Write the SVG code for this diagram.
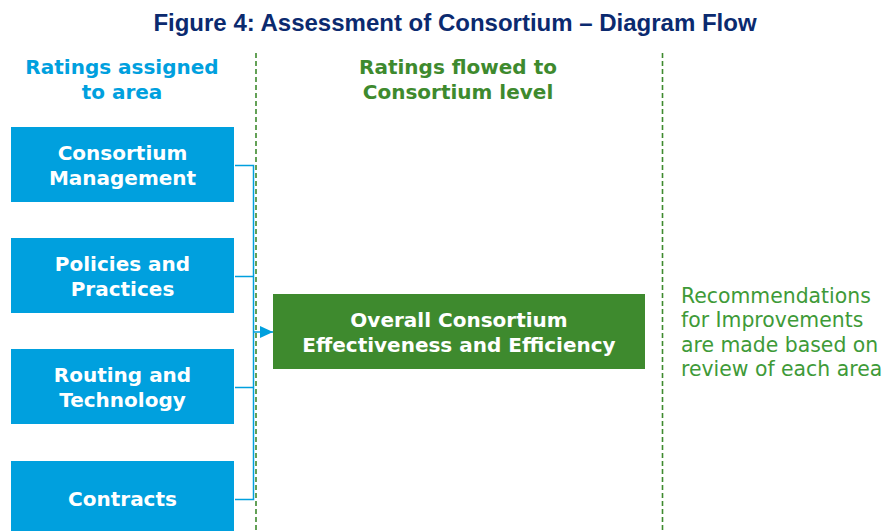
<svg xmlns="http://www.w3.org/2000/svg" width="886" height="531" viewBox="0 0 886 531">
<defs>
<style>
.title{font-family:"Liberation Sans",Arial,sans-serif;font-weight:bold;font-size:24px;fill:#0B2A6F;text-anchor:middle}
.hdr{font-family:"DejaVu Sans",Verdana,sans-serif;font-weight:bold;font-size:20px;text-anchor:middle}
.box{fill:#00A0DE}
.gbox{fill:#3E8A2E}
.bt{font-family:"DejaVu Sans",Verdana,sans-serif;font-weight:bold;font-size:20px;fill:#fff;text-anchor:middle}
.rt{font-family:"DejaVu Sans",Verdana,sans-serif;font-size:20.4px;fill:#3E9A38}
.dash{stroke:#3E8A2E;stroke-width:1.6;stroke-dasharray:5,3;fill:none}
.conn{stroke:#00A0DE;stroke-width:1.5;fill:none}
</style>
<marker id="arr" markerWidth="13" markerHeight="12" refX="13" refY="6" orient="auto" markerUnits="userSpaceOnUse">
<path d="M0,0 L13,6 L0,12 Z" fill="#00A0DE"/>
</marker>
</defs>
<rect width="886" height="531" fill="#fff"/>
<text class="title" x="455" y="31">Figure 4: Assessment of Consortium – Diagram Flow</text>
<g id="dividers">
<line class="dash" x1="256" y1="53" x2="256" y2="531"/>
<line class="dash" x1="662.5" y1="53" x2="662.5" y2="531"/>
</g>
<g id="hdr-left"><text class="hdr" fill="#00A0DE" x="122" y="74">Ratings assigned</text><text class="hdr" fill="#00A0DE" x="122" y="99">to area</text></g>
<g id="hdr-mid"><text class="hdr" fill="#3E8A2E" x="458" y="74">Ratings flowed to</text><text class="hdr" fill="#3E8A2E" x="458" y="99">Consortium level</text></g>
<g id="connectors">
<path class="conn" d="M235,165.5 H253.5 V499.5 H235 M235,276.5 H253.5 M235,387.5 H253.5"/>
<line class="conn" x1="253.5" y1="332" x2="273" y2="332" marker-end="url(#arr)"/>
</g>
<g id="n1"><rect class="box" x="11" y="127" width="223" height="75"/><text class="bt" x="122.5" y="160">Consortium</text><text class="bt" x="122.5" y="185">Management</text></g>
<g id="n2"><rect class="box" x="11" y="238" width="223" height="75"/><text class="bt" x="122.5" y="271">Policies and</text><text class="bt" x="122.5" y="296">Practices</text></g>
<g id="n3"><rect class="box" x="11" y="349" width="223" height="75"/><text class="bt" x="122.5" y="382">Routing and</text><text class="bt" x="122.5" y="407">Technology</text></g>
<g id="n4"><rect class="box" x="11" y="461" width="223" height="75"/><text class="bt" x="122.5" y="506">Contracts</text></g>
<g id="overall"><rect class="gbox" x="273" y="294" width="372" height="75"/><text class="bt" x="459" y="327">Overall Consortium</text><text class="bt" x="459" y="352">Effectiveness and Efficiency</text></g>
<g id="recs"><text class="rt" x="681" y="303">Recommendations</text><text class="rt" x="681" y="327">for Improvements</text><text class="rt" x="681" y="352">are made based on</text><text class="rt" x="681" y="376">review of each area</text></g>
</svg>
